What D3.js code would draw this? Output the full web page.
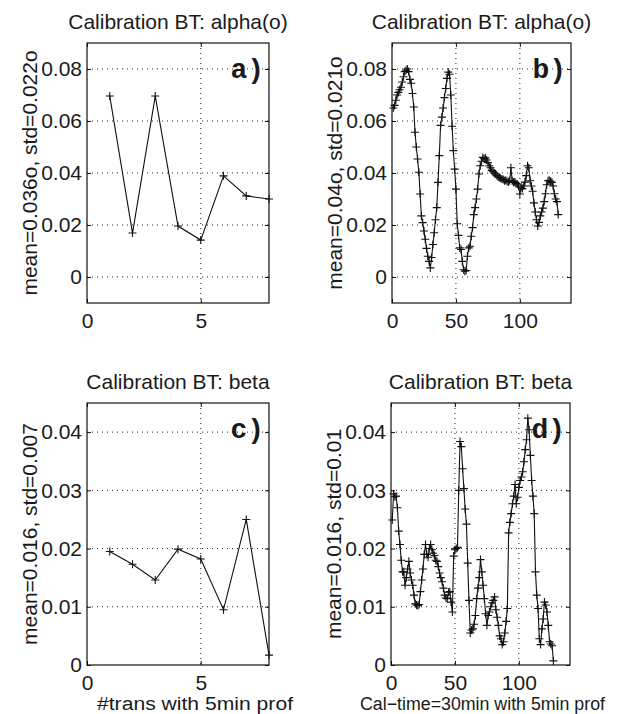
<!DOCTYPE html>
<html lang="en">
<head>
<meta charset="utf-8">
<title>Calibration BT</title>
<script src="https://cdn.jsdelivr.net/npm/d3@7"></script>
<style>
  body { margin: 0; background: #fff; }
  text { font-family: "Liberation Sans", Arial, Helvetica, sans-serif; fill: #1a1a1a; }
  .grid line { stroke: #222; stroke-width: 1; stroke-dasharray: 1,4; }
</style>
</head>
<body>
<script>
// panels a) and c): one value per transect
var transX = [1, 2, 3, 4, 5, 6, 7, 8];
var alphaTrans = [0.0696, 0.0169, 0.0696, 0.0196, 0.0142, 0.0389, 0.0312, 0.0300];
var betaTrans = [0.0195, 0.0173, 0.0146, 0.0199, 0.0182, 0.0095, 0.0250, 0.0017];

// panels b) and d): one value per calibration time step (x = 1, 2, 3 ...)
var alphaTime = [
  0.0650, 0.0660, 0.0680, 0.0700, 0.0710, 0.0720, 0.0730, 0.0750, 0.0770, 0.0790,
  0.0795, 0.0800, 0.0790, 0.0760, 0.0745, 0.0706, 0.0654, 0.0557, 0.0500, 0.0454,
  0.0403, 0.0319, 0.0235, 0.0209, 0.0177, 0.0145, 0.0110, 0.0080, 0.0060, 0.0035,
  0.0075, 0.0125, 0.0170, 0.0220, 0.0267, 0.0364, 0.0467, 0.0583, 0.0615, 0.0650,
  0.0690, 0.0725, 0.0764, 0.0788, 0.0780, 0.0700, 0.0580, 0.0486, 0.0415, 0.0338,
  0.0205, 0.0160, 0.0112, 0.0106, 0.0060, 0.0028, 0.0022, 0.0025, 0.0080, 0.0112,
  0.0118, 0.0157, 0.0190, 0.0240, 0.0267, 0.0300, 0.0338, 0.0396, 0.0428, 0.0445,
  0.0460, 0.0455, 0.0458, 0.0450, 0.0440, 0.0428, 0.0420, 0.0410, 0.0405, 0.0400,
  0.0396, 0.0390, 0.0385, 0.0383, 0.0380, 0.0377, 0.0375, 0.0370, 0.0372, 0.0368,
  0.0365, 0.0370, 0.0420, 0.0370, 0.0364, 0.0366, 0.0360, 0.0357, 0.0350, 0.0319,
  0.0345, 0.0340, 0.0350, 0.0365, 0.0390, 0.0428, 0.0420, 0.0370, 0.0350, 0.0330,
  0.0285, 0.0250, 0.0220, 0.0196, 0.0210, 0.0235, 0.0250, 0.0265, 0.0290, 0.0320,
  0.0355, 0.0370, 0.0372, 0.0368, 0.0364, 0.0350, 0.0320, 0.0300, 0.0290, 0.0240
];
var betaTime = [
  0.0249, 0.0294, 0.0289, 0.0290, 0.0270, 0.0230, 0.0207, 0.0180, 0.0160, 0.0160,
  0.0137, 0.0150, 0.0165, 0.0178, 0.0158, 0.0146, 0.0137, 0.0120, 0.0105, 0.0103,
  0.0102, 0.0104, 0.0126, 0.0146, 0.0165, 0.0190, 0.0207, 0.0190, 0.0185, 0.0200,
  0.0207, 0.0198, 0.0192, 0.0188, 0.0180, 0.0178, 0.0169, 0.0158, 0.0150, 0.0143,
  0.0132, 0.0120, 0.0115, 0.0114, 0.0125, 0.0126, 0.0108, 0.0091, 0.0187, 0.0198,
  0.0200, 0.0202, 0.0300, 0.0384, 0.0375, 0.0337, 0.0303, 0.0268, 0.0242, 0.0175,
  0.0111, 0.0055, 0.0060, 0.0062, 0.0070, 0.0085, 0.0114, 0.0132, 0.0150, 0.0181,
  0.0160, 0.0137, 0.0114, 0.0088, 0.0068, 0.0085, 0.0091, 0.0100, 0.0107, 0.0111,
  0.0117, 0.0095, 0.0082, 0.0068, 0.0050, 0.0045, 0.0035, 0.0040, 0.0055, 0.0075,
  0.0097, 0.0227, 0.0245, 0.0260, 0.0277, 0.0290, 0.0310, 0.0277, 0.0288, 0.0305,
  0.0317, 0.0323, 0.0332, 0.0349, 0.0370, 0.0387, 0.0424, 0.0404, 0.0360, 0.0317,
  0.0290, 0.0260, 0.0160, 0.0120, 0.0097, 0.0045, 0.0035, 0.0062, 0.0079, 0.0108,
  0.0103, 0.0091, 0.0068, 0.0040, 0.0036, 0.0033, 0.0007
];

// ticks and labels
var alphaTicks = [0, 0.02, 0.04, 0.06, 0.08];
var alphaTickLabels = ["0", "0.02", "0.04", "0.06", "0.08"];
var betaTicks = [0, 0.01, 0.02, 0.03, 0.04];
var betaTickLabels = ["0", "0.01", "0.02", "0.03", "0.04"];
var transTicks = [0, 5];
var timeTicks = [0, 50, 100];

var titles = ["Calibration BT: alpha(o)", "Calibration BT: alpha(o)", "Calibration BT: beta", "Calibration BT: beta"];
var yLabels = ["mean=0.036o, std=0.022o", "mean=0.04o, std=0.021o", "mean=0.016, std=0.007", "mean=0.016, std=0.01"];
var xLabels = ["", "", "#trans with 5min prof", "Cal\u2212time=30min with 5min prof"];
var panelTags = ["a)", "b)", "c)", "d)"];

var w = 617, h = 714;
var svg = d3.select("body").append("svg").attr("width", w).attr("height", h);

function pairs(xs, ys) {
  return ys.map(function(v, i) { return [xs ? xs[i] : i + 1, v]; });
}

var panels = [
  { l: 87,  r: 269, t: 43,  b: 303, xDom: [0, 8],   yDom: [-0.01, 0.09], xt: transTicks, yt: alphaTicks, ytl: alphaTickLabels, data: pairs(transX, alphaTrans) },
  { l: 392, r: 571, t: 43,  b: 303, xDom: [0, 140], yDom: [-0.01, 0.09], xt: timeTicks,  yt: alphaTicks, ytl: alphaTickLabels, data: pairs(null, alphaTime) },
  { l: 87,  r: 269, t: 403, b: 665, xDom: [0, 8],   yDom: [0, 0.045],    xt: transTicks, yt: betaTicks,  ytl: betaTickLabels,  data: pairs(transX, betaTrans), xl: [97, 196] },
  { l: 391, r: 570, t: 403, b: 665, xDom: [0, 140], yDom: [0, 0.045],    xt: timeTicks,  yt: betaTicks,  ytl: betaTickLabels,  data: pairs(null, betaTime), xl: [360, 245] }
];

panels.forEach(function(o, k) {
  var g = svg.append("g");
  var x = d3.scaleLinear().domain(o.xDom).range([o.l, o.r]);
  var y = d3.scaleLinear().domain(o.yDom).range([o.b, o.t]);

  // dotted grid
  var grid = g.append("g").attr("class", "grid");
  grid.selectAll(".gx").data(o.xt.filter(function(d) { return d > o.xDom[0]; })).enter().append("line")
    .attr("x1", function(d) { return x(d); }).attr("x2", function(d) { return x(d); })
    .attr("y1", o.t).attr("y2", o.b);
  grid.selectAll(".gy").data(o.yt.filter(function(d) { return d > o.yDom[0]; })).enter().append("line")
    .attr("x1", o.l).attr("x2", o.r)
    .attr("y1", function(d) { return y(d); }).attr("y2", function(d) { return y(d); });

  // axes with inward ticks on all four sides
  var left = g.append("g").attr("transform", "translate(" + o.l + ",0)")
    .call(d3.axisLeft(y).tickValues(o.yt).tickFormat(function(d, i) { return o.ytl[i]; }).tickSize(-4).tickPadding(5));
  var bottom = g.append("g").attr("transform", "translate(0," + o.b + ")")
    .call(d3.axisBottom(x).tickValues(o.xt).tickFormat(d3.format("d")).tickSize(-4).tickPadding(10));
  var right = g.append("g").attr("transform", "translate(" + o.r + ",0)")
    .call(d3.axisRight(y).tickValues(o.yt).tickFormat("").tickSize(-4));
  var top = g.append("g").attr("transform", "translate(0," + o.t + ")")
    .call(d3.axisTop(x).tickValues(o.xt).tickFormat("").tickSize(-4));
  [left, bottom, right, top].forEach(function(a) {
    a.select(".domain").remove();
    a.attr("font-size", 21).attr("font-family", null);
    a.selectAll(".tick line").attr("stroke", "#111");
    a.selectAll(".tick text").attr("fill", "#1a1a1a");
  });

  // frame
  g.append("rect").attr("x", o.l).attr("y", o.t).attr("width", o.r - o.l).attr("height", o.b - o.t)
    .attr("fill", "none").attr("stroke", "#111").attr("stroke-width", 1.2);

  // series line and + markers
  var line = d3.line().x(function(d) { return x(d[0]); }).y(function(d) { return y(d[1]); });
  g.append("path").datum(o.data).attr("d", line)
    .attr("fill", "none").attr("stroke", "#111").attr("stroke-width", 1.1);
  g.selectAll(".mk").data(o.data).enter().append("path")
    .attr("transform", function(d) { return "translate(" + x(d[0]) + "," + y(d[1]) + ")"; })
    .attr("d", "M-4,0H4M0,-4V4")
    .attr("stroke", "#111").attr("stroke-width", 1.1);

  // texts
  g.append("text").attr("x", (o.l + o.r) / 2).attr("y", o.t - 14)
    .attr("text-anchor", "middle").attr("font-size", 21).text(titles[k]);
  g.append("text").attr("transform", "translate(" + (o.l - 50) + "," + ((o.t + o.b) / 2) + ") rotate(-90)")
    .attr("text-anchor", "middle").attr("font-size", 21).text(yLabels[k]);
  g.append("text").attr("x", o.r - 5).attr("y", o.t + 35)
    .attr("text-anchor", "end").attr("font-size", 28).attr("font-weight", "bold")
    .style("font-family", "'Liberation Mono', 'Courier New', monospace").text(panelTags[k]);
  if (o.xl) {
    g.append("text").attr("x", o.xl[0]).attr("y", 710)
      .attr("font-size", 18).attr("textLength", o.xl[1]).attr("lengthAdjust", "spacingAndGlyphs")
      .text(xLabels[k]);
  }
});
</script>
</body>
</html>
